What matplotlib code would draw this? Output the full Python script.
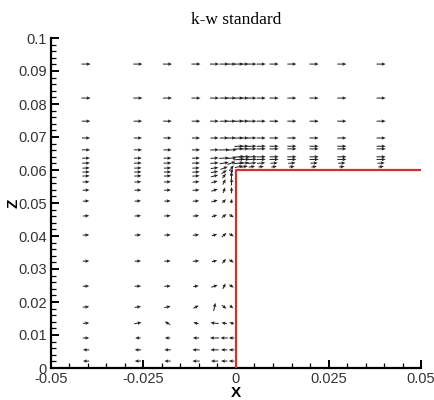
import numpy as np
import matplotlib
matplotlib.use('Agg')
import matplotlib.pyplot as plt
from matplotlib.ticker import MultipleLocator, FormatStrFormatter

# step outline (red)
step_x = [0.0, 0.0, 0.05]
step_z = [0.0, 0.06, 0.06]

# upstream region x<0: columns, rows, velocity components
xl = [-0.0405, -0.0265, -0.0185, -0.0108, -0.0058, -0.0032, -0.0012]
zl = [0.0921, 0.0818, 0.0748, 0.0697, 0.0661, 0.0636, 0.0621, 0.0606, 0.0594,
      0.0582, 0.0564, 0.0539, 0.0506, 0.0461, 0.0403, 0.0324, 0.0248, 0.0185,
      0.0136, 0.0091, 0.0055, 0.0021]
ul = [
    [1.0, 1.0, 1.0, 1.0, 1.0, 1.0, 1.0],
    [1.0, 1.0, 1.0, 1.0, 1.0, 1.0, 1.0],
    [0.95, 0.95, 0.95, 0.95, 0.95, 0.95, 0.95],
    [0.9, 0.9, 0.9, 0.9, 0.9, 0.95, 0.95],
    [0.9, 0.9, 0.9, 0.9, 0.95, 1.2, 1.2],
    [0.85, 0.85, 0.85, 0.85, 0.9, 1.1, 1.1],
    [0.85, 0.85, 0.85, 0.85, 0.9, 1.0, 0.9],
    [0.8, 0.8, 0.8, 0.8, 0.85, 0.8, 0.5],
    [0.8, 0.8, 0.8, 0.8, 0.8, 0.6, 0.2],
    [0.8, 0.8, 0.8, 0.8, 0.8, 0.4, 0.05],
    [0.75, 0.75, 0.75, 0.75, 0.7, 0.3, 0.0],
    [0.75, 0.75, 0.75, 0.75, 0.7, 0.2, 0.0],
    [0.7, 0.7, 0.7, 0.7, 0.7, 0.4, 0.1],
    [0.7, 0.7, 0.7, 0.7, 0.6, 0.5, 0.5],
    [0.7, 0.7, 0.7, 0.7, 0.6, 0.5, 0.5],
    [0.7, 0.7, 0.7, 0.7, 0.6, 0.4, 0.5],
    [0.7, 0.7, 0.7, 0.6, 0.7, 0.3, 0.5],
    [0.7, 0.7, 0.7, 0.6, 0.2, 0.5, 0.4],
    [0.7, 0.8, -0.6, -0.6, -0.9, -0.6, -0.5],
    [0.7, -0.6, -0.6, -0.7, -1.0, -0.8, -0.6],
    [-0.7, -0.7, -0.7, -0.8, -0.9, -0.7, -0.6],
    [-0.7, -0.7, -0.7, -0.8, -0.8, -0.7, -0.6],
]
wl = [
    [0.0, 0.0, 0.0, 0.0, 0.0, 0.0, 0.0],
    [0.0, 0.0, 0.0, 0.0, 0.0, 0.0, 0.0],
    [0.0, 0.0, 0.0, 0.0, 0.0, 0.02, 0.02],
    [0.0, 0.0, 0.0, 0.0, 0.02, 0.02, 0.03],
    [0.0, 0.0, 0.0, 0.0, 0.03, 0.03, 0.05],
    [0.02, 0.02, 0.02, 0.02, 0.05, 0.05, 0.1],
    [0.02, 0.02, 0.02, 0.02, 0.08, 0.15, 0.3],
    [0.03, 0.03, 0.03, 0.03, 0.12, 0.3, 0.6],
    [0.03, 0.03, 0.03, 0.05, 0.15, 0.4, 0.8],
    [0.03, 0.03, 0.03, 0.05, 0.2, 0.5, 0.9],
    [0.03, 0.03, 0.03, 0.05, 0.2, 0.6, 0.8],
    [0.03, 0.03, 0.03, 0.05, 0.25, 0.6, 0.7],
    [0.03, 0.03, 0.03, 0.05, 0.2, 0.4, 0.5],
    [0.03, 0.03, 0.03, 0.05, 0.2, 0.4, -0.3],
    [0.03, 0.03, 0.03, 0.05, 0.15, 0.45, -0.3],
    [0.03, 0.03, 0.03, 0.05, 0.15, 0.5, -0.3],
    [0.03, 0.03, 0.05, 0.1, 0.25, 0.6, -0.3],
    [0.05, 0.1, 0.15, 0.3, 0.9, -0.4, -0.3],
    [0.05, 0.15, 0.35, 0.15, 0.1, 0.1, 0.15],
    [0.0, 0.0, 0.0, 0.0, 0.0, 0.0, 0.0],
    [0.0, 0.0, 0.0, 0.0, 0.0, 0.0, 0.0],
    [0.0, 0.0, 0.0, 0.0, 0.0, 0.0, 0.0],
]

# region above the step x>0
xr = [0.0008, 0.0022, 0.0043, 0.0068, 0.0103, 0.0151, 0.0211, 0.0286, 0.0392]
zr = [0.0921, 0.0818, 0.0748, 0.0697, 0.0672, 0.0664, 0.0640, 0.0632, 0.0621, 0.0610]
ur = [
    [1.0, 1.0, 1.0, 1.0, 1.0, 1.0, 1.0, 1.0, 1.0],
    [1.0, 1.0, 1.0, 1.0, 1.0, 1.0, 1.0, 1.0, 1.0],
    [1.0, 1.0, 1.0, 1.0, 1.0, 1.0, 1.0, 1.0, 1.0],
    [1.0, 1.0, 1.0, 1.0, 1.0, 1.0, 1.0, 1.0, 1.0],
    [1.0, 1.0, 1.0, 1.0, 1.0, 1.0, 1.0, 1.0, 1.0],
    [1.0, 1.0, 1.0, 1.0, 1.0, 1.0, 1.0, 1.0, 1.0],
    [1.2, 1.2, 1.1, 1.0, 1.0, 1.0, 1.0, 1.0, 1.0],
    [1.2, 1.2, 1.1, 1.0, 1.0, 1.0, 1.0, 1.0, 1.0],
    [1.1, 1.1, 1.0, 0.9, 0.8, 0.8, 0.8, 0.8, 0.8],
    [0.9, 0.8, 0.7, 0.6, 0.6, 0.6, 0.6, 0.6, 0.6],
]
wr = [
    [0.0, 0.0, 0.0, 0.0, 0.0, 0.0, 0.0, 0.0, 0.0],
    [0.0, 0.0, 0.0, 0.0, 0.0, 0.0, 0.0, 0.0, 0.0],
    [0.02, 0.02, 0.0, 0.0, 0.0, 0.0, 0.0, 0.0, 0.0],
    [0.03, 0.03, 0.02, 0.0, 0.0, 0.0, 0.0, 0.0, 0.0],
    [0.05, 0.05, 0.03, 0.02, 0.0, 0.0, 0.0, 0.0, 0.0],
    [0.05, 0.05, 0.03, 0.02, 0.0, 0.0, 0.0, 0.0, 0.0],
    [0.1, 0.08, 0.05, 0.03, 0.02, 0.0, 0.0, 0.0, 0.0],
    [0.1, 0.08, 0.05, 0.03, 0.02, 0.0, 0.0, 0.0, 0.0],
    [0.15, 0.1, 0.08, 0.05, 0.05, 0.05, 0.05, 0.05, 0.05],
    [0.2, 0.15, 0.1, 0.08, 0.08, 0.08, 0.08, 0.08, 0.08],
]

fig = plt.figure(figsize=(4.35, 4.0), dpi=100)
ax = fig.add_axes([0.117, 0.08, 0.851, 0.825])

qkw = dict(pivot='mid', angles='uv', scale_units='inches', scale=11,
           units='dots', width=1.0, headwidth=3.5, headlength=4,
           headaxislength=3.5, color='#222222')
XL, ZL = np.meshgrid(xl, zl)
ax.quiver(XL, ZL, np.array(ul), np.array(wl), **qkw)
XR, ZR = np.meshgrid(xr, zr)
ax.quiver(XR, ZR, np.array(ur), np.array(wr), **qkw)

ax.plot(step_x, step_z, color='#d6302c', lw=1.6, zorder=5)

ax.set_xlim(-0.05, 0.05)
ax.set_ylim(0, 0.1)
ax.spines['top'].set_visible(False)
ax.spines['right'].set_visible(False)
ax.spines['left'].set_linewidth(1.6)
ax.spines['bottom'].set_linewidth(1.6)

ax.xaxis.set_major_locator(MultipleLocator(0.025))
ax.xaxis.set_minor_locator(MultipleLocator(0.005))
ax.yaxis.set_major_locator(MultipleLocator(0.01))
ax.yaxis.set_minor_locator(MultipleLocator(0.002))
ax.xaxis.set_major_formatter(FormatStrFormatter('%g'))
ax.yaxis.set_major_formatter(FormatStrFormatter('%g'))
ax.tick_params(which='major', direction='in', length=6, width=1.4,
               labelsize=10.5, labelcolor='#333333', pad=3)
ax.tick_params(which='minor', direction='in', length=3.5, width=0.9)
for lab in ax.get_xticklabels() + ax.get_yticklabels():
    lab.set_family('Liberation Sans')

ax.set_xlabel('X', fontsize=11, fontweight='bold', family='Liberation Sans', labelpad=0)
ax.set_ylabel('Z', fontsize=11, fontweight='bold', family='Liberation Sans', labelpad=-2)
ax.set_title('k-w standard', fontsize=12.5, family='Liberation Serif', pad=10)

fig.savefig('out.png', dpi=100)
